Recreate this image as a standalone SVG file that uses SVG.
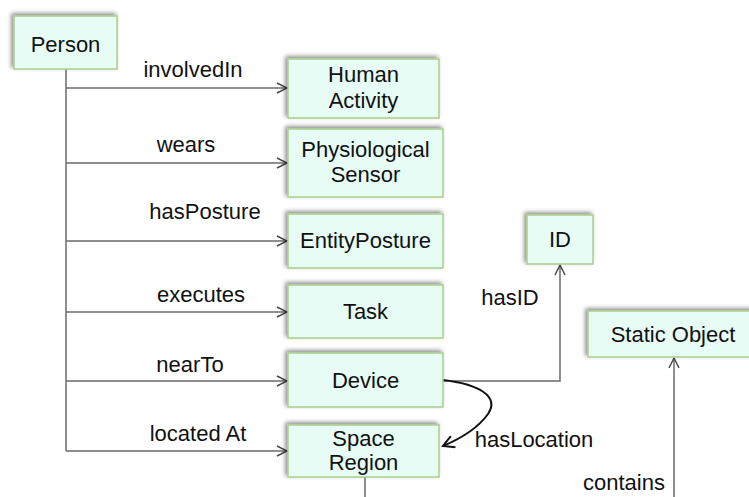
<svg xmlns="http://www.w3.org/2000/svg" width="749" height="497" viewBox="0 0 749 497">
<style>
.box{fill:#E6FCF5;stroke:#A9CF8A;stroke-width:1.5;filter:url(#sh)}
.t{font-family:"Liberation Sans",Arial,sans-serif;font-size:22px;fill:#111;text-anchor:middle}
.e{fill:none;stroke:#6a6a6a;stroke-width:1.5}
</style>
<defs>
<filter id="sh" x="-20%" y="-20%" width="140%" height="140%">
<feDropShadow dx="-2" dy="-2" stdDeviation="2" flood-color="#000" flood-opacity="0.45"/>
</filter>
<marker id="a" viewBox="0 0 12 12" refX="11" refY="6" markerWidth="12" markerHeight="12" markerUnits="userSpaceOnUse" orient="auto">
<path d="M1,1 L11,6 L1,11" fill="none" stroke="#444" stroke-width="1.4"/>
</marker>
<marker id="b" viewBox="0 0 14 14" refX="12" refY="7" markerWidth="14" markerHeight="14" markerUnits="userSpaceOnUse" orient="auto">
<path d="M1,1 L12,7 L1,13" fill="none" stroke="#111" stroke-width="2"/>
</marker>
</defs>
<rect width="749" height="497" fill="#fff"/>
<g id="connectors">
<path class="e" d="M66,69 V451"/>
<path class="e" d="M66,88 H287" marker-end="url(#a)"/>
<path class="e" d="M66,163 H287" marker-end="url(#a)"/>
<path class="e" d="M66,241 H287" marker-end="url(#a)"/>
<path class="e" d="M66,312 H287" marker-end="url(#a)"/>
<path class="e" d="M66,381 H287" marker-end="url(#a)"/>
<path class="e" d="M66,451 H287" marker-end="url(#a)"/>
<path class="e" d="M443,381 H560 V265" marker-end="url(#a)"/>
<path class="e" d="M674,497 V358" marker-end="url(#a)"/>
<path class="e" d="M365,477 V497"/>
<path d="M443,380 C478,384 500,396 488,414 C478,428 462,438 443,446" fill="none" stroke="#111" stroke-width="2" marker-end="url(#b)"/>
<text class="t" x="193" y="77">involvedIn</text>
<text class="t" x="186" y="152">wears</text>
<text class="t" x="205" y="219">hasPosture</text>
<text class="t" x="201" y="302">executes</text>
<text class="t" x="190" y="372">nearTo</text>
<text class="t" x="198" y="441">located At</text>
<text class="t" x="510" y="305">hasID</text>
<text class="t" x="534" y="447">hasLocation</text>
<text class="t" x="624" y="490">contains</text>
</g>
<g id="person"><rect class="box" x="14" y="16" width="103" height="53"/><text class="t" x="65.5" y="52">Person</text></g>
<g id="human-activity"><rect class="box" x="288" y="59" width="151" height="59"/><text class="t" x="363.5" y="82">Human</text><text class="t" x="363.5" y="108">Activity</text></g>
<g id="physiological-sensor"><rect class="box" x="288" y="129" width="155" height="68"/><text class="t" x="365.5" y="157">Physiological</text><text class="t" x="365.5" y="182">Sensor</text></g>
<g id="entity-posture"><rect class="box" x="288" y="214" width="155" height="54"/><text class="t" x="365.5" y="248">EntityPosture</text></g>
<g id="task"><rect class="box" x="288" y="285" width="155" height="53"/><text class="t" x="365.5" y="319">Task</text></g>
<g id="device"><rect class="box" x="288" y="353" width="155" height="54"/><text class="t" x="365.5" y="388">Device</text></g>
<g id="space-region"><rect class="box" x="288" y="425" width="151" height="52"/><text class="t" x="363.5" y="446">Space</text><text class="t" x="363.5" y="470">Region</text></g>
<g id="id"><rect class="box" x="527" y="215" width="66" height="49"/><text class="t" x="560" y="247">ID</text></g>
<g id="static-object"><rect class="box" x="588" y="311" width="170" height="46"/><text class="t" x="673" y="342">Static Object</text></g>
</svg>
